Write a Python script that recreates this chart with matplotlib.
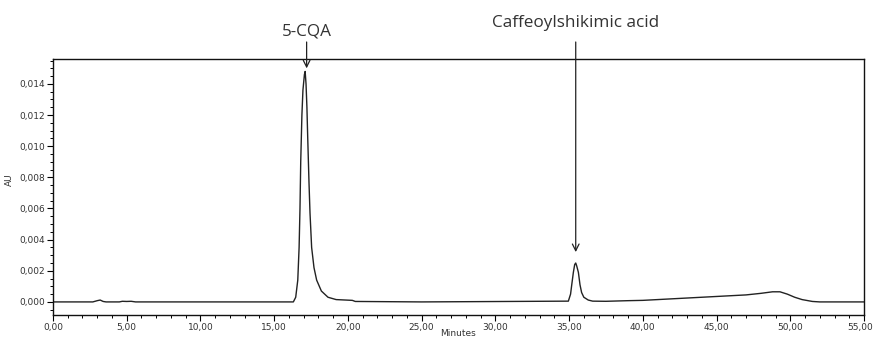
import matplotlib
matplotlib.use("Agg")
import matplotlib.pyplot as plt
import matplotlib.transforms as mtransforms
from matplotlib.ticker import MultipleLocator, FuncFormatter

# Chromatogram trace (minutes, AU)
time_min = [0.0, 2.7, 3.0, 3.2, 3.4, 3.6, 4.5, 4.7, 5.0, 5.3, 5.6, 16.3, 16.46, 16.6,
            16.69, 16.75, 16.8, 16.88, 16.95, 17.05, 17.1, 17.16, 17.22, 17.27, 17.36,
            17.43, 17.54, 17.7, 17.88, 18.2, 18.65, 19.2, 20.3, 20.5, 25.0, 34.95, 35.1,
            35.18, 35.29, 35.38, 35.45, 35.52, 35.63, 35.74, 35.85, 36.0, 36.3, 36.6,
            37.5, 39.0, 40.0, 41.0, 42.0, 43.0, 44.0, 45.0, 46.0, 47.0, 48.0, 48.8,
            49.3, 49.8, 50.3, 50.8, 51.5, 52.0, 55.0]
absorbance = [0.0, 0.0, 0.00008, 0.00012, 0.00003, 0.0, 0.0, 0.00004, 0.00003, 0.00004,
              0.0, 0.0, 0.0003, 0.0014, 0.0035, 0.0060, 0.0090, 0.0120, 0.0136, 0.0146,
              0.0148, 0.0140, 0.0125, 0.0107, 0.0077, 0.0057, 0.0035, 0.0022, 0.0014,
              0.0007, 0.0003, 0.00015, 0.0001, 0.00003, 0.0, 0.00005, 0.0005, 0.0011,
              0.0019, 0.0024, 0.0025, 0.0023, 0.0019, 0.0011, 0.0006, 0.0003, 0.00012,
              0.00005, 0.00004, 0.00008, 0.0001, 0.00015, 0.0002, 0.00025, 0.0003,
              0.00035, 0.0004, 0.00045, 0.00055, 0.00065, 0.00065, 0.0005, 0.0003,
              0.00015, 0.00003, 0.0, 0.0]

peak_names = ["5-CQA", "Caffeoylshikimic acid"]
peak_times = [17.2, 35.45]
arrow_tips = [0.0150, 0.0032]

x_ticks = [0, 5, 10, 15, 20, 25, 30, 35, 40, 45, 50, 55]
y_ticks = [0.000, 0.002, 0.004, 0.006, 0.008, 0.010, 0.012, 0.014]

W, H = 874, 338
fig = plt.figure(figsize=(W / 100, H / 100), dpi=100)
ax = fig.add_axes([53 / W, 1 - 315 / H, (864 - 53) / W, (315 - 59) / H])

ax.plot(time_min, absorbance, color="#222222", lw=1.0)

ax.set_xlim(0, 55)
ax.set_ylim(-0.00084, 0.0156)
ax.set_xticks(x_ticks)
ax.set_yticks(y_ticks)
ax.xaxis.set_minor_locator(MultipleLocator(1))
ax.yaxis.set_minor_locator(MultipleLocator(0.0005))
ax.xaxis.set_major_formatter(FuncFormatter(lambda v, p: f"{v:.2f}".replace(".", ",")))
ax.yaxis.set_major_formatter(FuncFormatter(lambda v, p: f"{v:.3f}".replace(".", ",")))
ax.tick_params(which="major", length=4, width=0.8, labelsize=6.5, labelcolor="#333333",
               direction="out", pad=2)
ax.tick_params(which="minor", length=2.5, width=0.7, direction="out")
for s in ax.spines.values():
    s.set_linewidth(1.0)
    s.set_color("#111111")

# keep the last x tick label inside the canvas
fig.canvas.draw()
last = ax.get_xticklabels()[-1]
last.set_transform(last.get_transform() +
                   mtransforms.ScaledTranslation(-4 / 100, 0, fig.dpi_scale_trans))

ax.set_ylabel("AU", fontsize=6.5, color="#333333")
ax.yaxis.set_label_coords(-0.048, 0.53)
fig.text(458 / W, 0.5 / H, "Minutes", fontsize=6.5, color="#333333",
         ha="center", va="bottom")

text_y = [31, 23]
for name, t, tip, ty in zip(peak_names, peak_times, arrow_tips, text_y):
    ax.annotate("", xy=(t, tip), xycoords="data",
                xytext=(t, H - 42), textcoords=("data", "figure pixels"),
                arrowprops=dict(arrowstyle="->", color="#222222", lw=0.9,
                                mutation_scale=12, shrinkA=0, shrinkB=0),
                annotation_clip=False)
    ax.annotate(name, xy=(t, H - ty), xycoords=("data", "figure pixels"),
                ha="center", va="center", fontsize=12.3, color="#333333",
                family=["Open Sans", "DejaVu Sans"], annotation_clip=False)

fig.savefig("out.png", dpi=100)
